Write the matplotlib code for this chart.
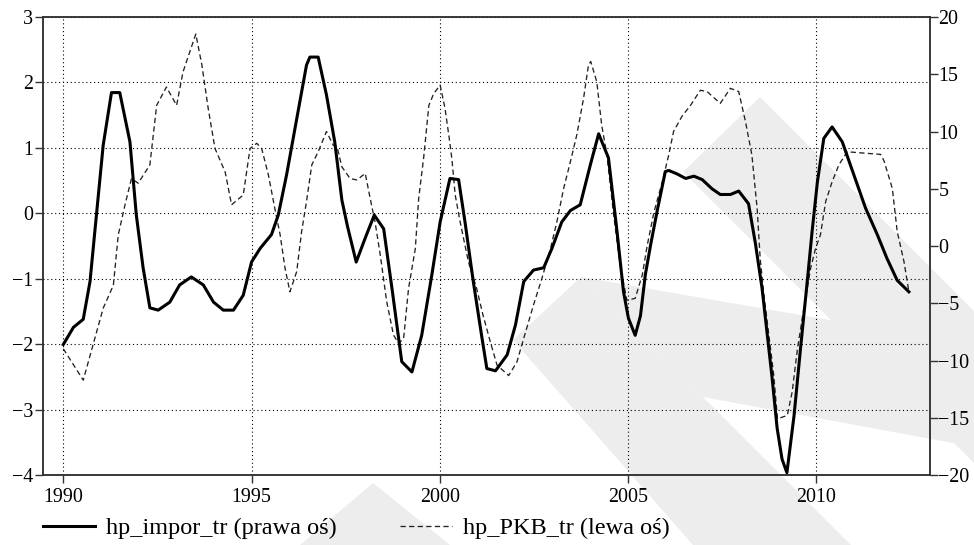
import matplotlib
matplotlib.use("Agg")
import matplotlib.pyplot as plt
from matplotlib.patches import Polygon
from matplotlib.lines import Line2D

plt.rcParams['font.family'] = ['Liberation Serif', 'DejaVu Serif']
plt.rcParams['font.size'] = 14.4

# hp_impor_tr (prawa oś)
impor_lata = [1990.0, 1990.27, 1990.53, 1990.71, 1990.88, 1991.06, 1991.28, 1991.50, 1991.77, 1991.94,
              1992.12, 1992.30, 1992.52, 1992.83, 1993.09, 1993.40, 1993.72, 1993.99, 1994.25, 1994.52,
              1994.78, 1995.0, 1995.23, 1995.53, 1995.71, 1995.93, 1996.20, 1996.46, 1996.55, 1996.77,
              1996.99, 1997.21, 1997.40, 1997.55, 1997.78, 1998.02, 1998.26, 1998.51, 1998.73, 1998.99,
              1999.26, 1999.52, 1999.79, 2000.01, 2000.27, 2000.50, 2000.67, 2000.89, 2001.11, 2001.25,
              2001.48, 2001.79, 2002.01, 2002.23, 2002.49, 2002.76, 2002.98, 2003.24, 2003.47, 2003.73,
              2004.0, 2004.22, 2004.48, 2004.70, 2004.88, 2005.01, 2005.19, 2005.33, 2005.46, 2005.60,
              2005.77, 2005.99, 2006.08, 2006.30, 2006.53, 2006.75, 2006.97, 2007.23, 2007.45, 2007.72,
              2007.94, 2008.20, 2008.38, 2008.56, 2008.69, 2008.82, 2008.96, 2009.09, 2009.22, 2009.41,
              2009.58, 2009.76, 2009.89, 2010.03, 2010.20, 2010.42, 2010.69, 2011.0, 2011.31, 2011.62,
              2011.88, 2012.15, 2012.46]
impor = [-8.6, -7.1, -6.4, -3.1, 2.7, 8.8, 13.4, 13.4, 9.1, 2.7,
         -1.9, -5.4, -5.6, -4.9, -3.4, -2.7, -3.4, -4.9, -5.6, -5.6,
         -4.3, -1.4, -0.2, 1.0, 2.7, 6.2, 11.1, 15.8, 16.5, 16.5,
         13.2, 9.1, 4.0, 1.7, -1.4, 0.7, 2.7, 1.5, -3.7, -10.1,
         -11.0, -7.8, -2.5, 2.1, 5.9, 5.8, 2.1, -3.1, -7.8, -10.7,
         -10.9, -9.5, -6.9, -3.1, -2.1, -1.9, -0.2, 2.1, 3.1, 3.6,
         7.1, 9.8, 7.7, 1.5, -4.0, -6.3, -7.8, -6.1, -2.5, 0.1,
         3.0, 6.5, 6.6, 6.3, 5.9, 6.1, 5.8, 5.0, 4.5, 4.5,
         4.8, 3.7, 0.3, -3.7, -7.5, -11.3, -15.9, -18.6, -19.8, -14.8,
         -9.0, -3.1, 1.3, 5.6, 9.4, 10.4, 9.1, 6.2, 3.3, 1.0,
         -1.1, -3.0, -4.0]

# hp_PKB_tr (lewa oś)
pkb_lata = [1990.0, 1990.53, 1990.80, 1991.06, 1991.33, 1991.46, 1991.64, 1991.81, 1991.99, 1992.30,
            1992.48, 1992.74, 1993.01, 1993.18, 1993.52, 1993.68, 1993.85, 1994.03, 1994.30, 1994.47,
            1994.78, 1994.96, 1995.14, 1995.27, 1995.45, 1995.62, 1995.76, 1995.89, 1996.02, 1996.20,
            1996.33, 1996.46, 1996.60, 1996.77, 1996.99, 1997.17, 1997.27, 1997.40, 1997.62, 1997.80,
            1998.02, 1998.15, 1998.28, 1998.42, 1998.59, 1998.77, 1998.91, 1999.04, 1999.17, 1999.35,
            1999.44, 1999.57, 1999.71, 1999.84, 2000.01, 2000.14, 2000.25, 2000.32, 2000.41, 2000.54,
            2000.76, 2000.98, 2001.15, 2001.34, 2001.52, 2001.83, 2002.05, 2002.23, 2002.49, 2002.71,
            2002.94, 2003.11, 2003.29, 2003.47, 2003.64, 2003.82, 2003.95, 2004.01, 2004.17, 2004.30,
            2004.44, 2004.62, 2004.79, 2004.97, 2005.19, 2005.38, 2005.51, 2005.69, 2005.91, 2006.08,
            2006.21, 2006.43, 2006.66, 2006.92, 2007.10, 2007.45, 2007.72, 2007.94, 2008.12, 2008.29,
            2008.43, 2008.51, 2008.60, 2008.74, 2008.87, 2008.97, 2009.23, 2009.36, 2009.50, 2009.67,
            2009.85, 2009.98, 2010.11, 2010.25, 2010.42, 2010.60, 2010.82, 2011.27, 2011.71, 2011.80,
            2012.02, 2012.15, 2012.33, 2012.46]
pkb = [-2.07, -2.55, -1.99, -1.45, -1.10, -0.33, 0.13, 0.53, 0.46, 0.74,
       1.65, 1.93, 1.65, 2.16, 2.74, 2.27, 1.60, 0.99, 0.63, 0.13,
       0.28, 0.99, 1.07, 0.99, 0.58, 0.07, -0.33, -0.84, -1.20, -0.89,
       -0.28, 0.18, 0.74, 0.94, 1.25, 1.04, 1.02, 0.71, 0.53, 0.51,
       0.61, 0.23, -0.13, -0.64, -1.35, -1.86, -1.99, -1.91, -1.15, -0.54,
       0.23, 0.84, 1.65, 1.83, 1.96, 1.60, 1.15, 0.84, 0.28, -0.13,
       -0.74, -1.15, -1.56, -1.96, -2.32, -2.48, -2.27, -1.91, -1.40, -1.00,
       -0.54, -0.13, 0.38, 0.79, 1.20, 1.76, 2.27, 2.32, 2.01, 1.35,
       0.89, -0.03, -0.79, -1.33, -1.30, -0.94, -0.49, 0.02, 0.48, 0.89,
       1.25, 1.48, 1.65, 1.88, 1.86, 1.68, 1.91, 1.86, 1.40, 0.89,
       0.07, -0.69, -1.20, -1.86, -2.47, -3.14, -3.09, -2.73, -2.07, -1.45,
       -0.84, -0.54, -0.33, 0.18, 0.48, 0.74, 0.94, 0.92, 0.90, 0.80,
       0.38, -0.28, -0.74, -1.20]

lata_ticks = [1990, 1995, 2000, 2005, 2010]
lewa_ticks = [-4, -3, -2, -1, 0, 1, 2, 3]
prawa_ticks = [-20, -15, -10, -5, 0, 5, 10, 15, 20]

etykiety = ["hp_impor_tr (prawa oś)", "hp_PKB_tr (lewa oś)"]

fig = plt.figure(figsize=(9.74, 5.45), dpi=100)

# szary znak wodny w tle (piksele obrazu)
znak_wodny = [
    [(760, 97), (974, 311), (974, 463), (683, 172)],
    [(581, 277), (974, 345), (974, 422), (953, 443), (703, 397)],
    [(581, 277), (703, 397), (851, 545), (693, 545), (513, 340)],
    [(373, 483), (300, 545), (450, 545)],
]
for ksztalt in znak_wodny:
    pts = [(x / 974, 1 - y / 545) for x, y in ksztalt]
    fig.patches.append(Polygon(pts, closed=True, transform=fig.transFigure,
                               facecolor='#ededed', edgecolor='none', zorder=-5))

ax = fig.add_axes([0.0441, 0.1284, 0.9107, 0.8404])
ax.patch.set_visible(False)
ax2 = ax.twinx()
ax2.patch.set_visible(False)

ax.plot(pkb_lata, pkb, color='#222222', lw=0.95, dashes=(4, 2.5))
ax2.plot(impor_lata, impor, color='black', lw=2.2)

ax.set_xlim(1989.46, 2013.02)
ax.set_ylim(-4, 3)
ax2.set_ylim(-20, 20)
ax.set_xticks(lata_ticks)
ax.set_yticks(lewa_ticks)
ax2.set_yticks(prawa_ticks)

ax.grid(True, color='black', linestyle=(0, (1, 2.5)), lw=0.8)

for a in (ax, ax2):
    for s in a.spines.values():
        s.set_color('#333333')
        s.set_linewidth(1.1)
ax.tick_params(axis='both', direction='out', length=5.5, width=1, color='#333333', labelsize=14.4)
ax.tick_params(axis='y', pad=1.5)
ax.tick_params(axis='x', pad=3.5)
ax2.tick_params(axis='y', direction='out', length=5.5, width=1, color='#333333', labelsize=14.4, pad=0.5)

uchwyty = [Line2D([], [], color='black', lw=2.2),
           Line2D([], [], color='#222222', lw=0.95, dashes=(4, 2.5))]
fig.legend(uchwyty, etykiety, loc='center left', bbox_to_anchor=(0.044, 0.031),
           ncol=2, frameon=False, handlelength=2.15, handletextpad=0.45,
           columnspacing=2.6, borderpad=0, borderaxespad=0, fontsize=17.5)

fig.savefig("out.png", dpi=100)
